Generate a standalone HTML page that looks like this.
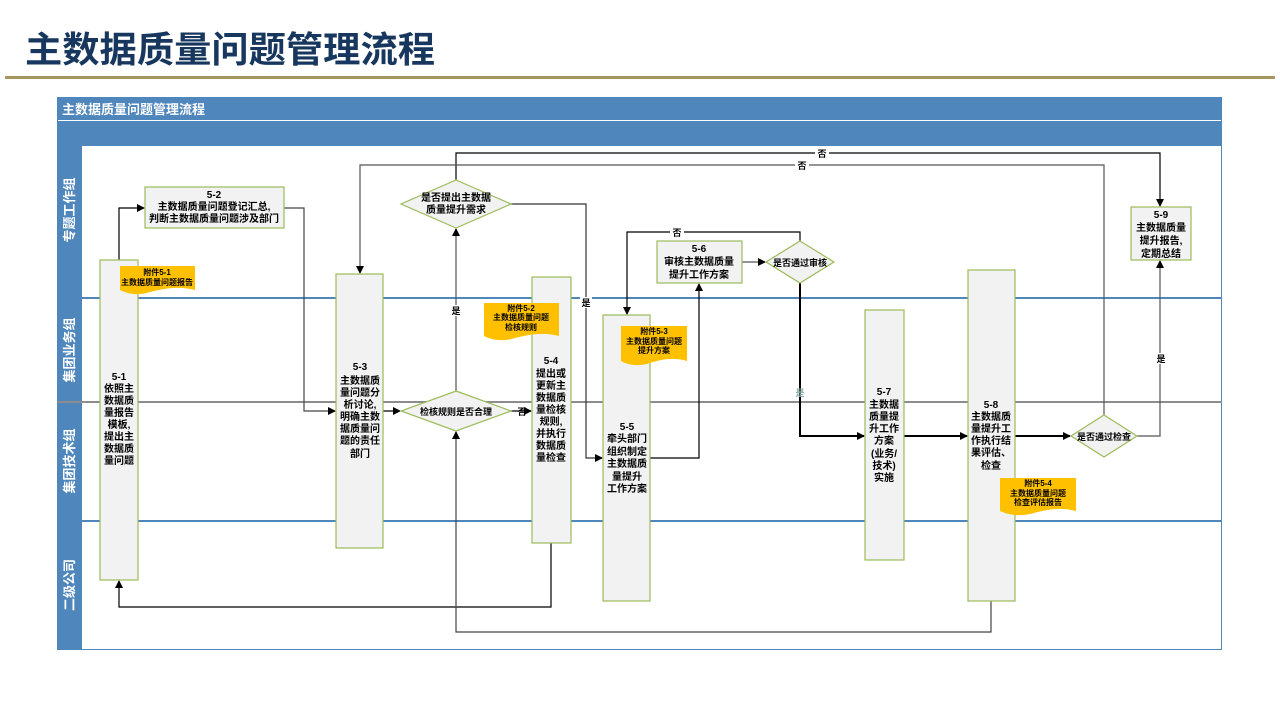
<!DOCTYPE html>
<html><head><meta charset="utf-8"><style>
body{margin:0;background:#fff;width:1280px;height:720px;overflow:hidden;font-family:"Liberation Sans","Noto Sans CJK SC",sans-serif}
</style></head><body>
<svg width="1280" height="720" xmlns="http://www.w3.org/2000/svg" font-family="Liberation Sans, Noto Sans CJK SC, sans-serif">
<defs>
<marker id="a" markerWidth="8" markerHeight="8" refX="7" refY="4" orient="auto" markerUnits="userSpaceOnUse"><path d="M0,0 L8,4 L0,8 Z" fill="#000"/></marker>
</defs>
<text x="25" y="62" font-size="36" font-weight="bold" fill="#17375e" textLength="410" lengthAdjust="spacingAndGlyphs">主数据质量问题管理流程</text>
<rect x="5" y="76" width="1270" height="3" fill="#a6955c"/>
<!-- frame -->
<rect x="57.5" y="97.5" width="1164" height="552" fill="#fff" stroke="#4f86bc"/>
<rect x="57" y="97" width="1165" height="23" fill="#4f86bc"/>
<text x="62" y="114" font-size="13" font-weight="bold" fill="#fff">主数据质量问题管理流程</text>
<rect x="82" y="121" width="1140" height="25" fill="#4f86bc"/>
<rect x="57" y="121" width="25" height="529" fill="#4f86bc"/>
<line x1="57" y1="298" x2="1222" y2="298" stroke="#4f86bc" stroke-width="2"/>
<line x1="57" y1="402" x2="1222" y2="402" stroke="#8c8c8c" stroke-width="2"/>
<line x1="57" y1="521" x2="1222" y2="521" stroke="#4f86bc" stroke-width="2"/>
<g font-size="13" font-weight="bold" fill="#fff" text-anchor="middle">
<text transform="translate(74,210) rotate(-90)">专题工作组</text>
<text transform="translate(74,350) rotate(-90)">集团业务组</text>
<text transform="translate(74,461) rotate(-90)">集团技术组</text>
<text transform="translate(74,585) rotate(-90)">二级公司</text>
</g>
<!-- connectors -->
<g fill="none" stroke="#000" stroke-width="1.2">
<path d="M119,260 V208 H144" marker-end="url(#a)"/>
<path d="M284,208 H304 V411 H335" marker-end="url(#a)" stroke="#444"/>
<path d="M383,411 H400" marker-end="url(#a)"/>
<path d="M511,411 H531" marker-end="url(#a)"/>
<path d="M456,391 V229" marker-end="url(#a)" stroke="#555"/>
<path d="M456,180 V153 H1160 V206" marker-end="url(#a)"/>
<path d="M1104,415 V165 H360 V273" marker-end="url(#a)" stroke="#555"/>
<path d="M511,204 H586 V458 H602" marker-end="url(#a)" stroke="#333"/>
<path d="M650,458 H699 V284" marker-end="url(#a)"/>
<path d="M742,262 H765" marker-end="url(#a)" stroke="#555"/>
<path d="M800,241 V232 H627 V314" marker-end="url(#a)"/>
<path d="M800,283 V436 H864" marker-end="url(#a)" stroke-width="2"/>
<path d="M904,436 H967" marker-end="url(#a)" stroke-width="2"/>
<path d="M1015,436 H1070" marker-end="url(#a)" stroke-width="2"/>
<path d="M1137,436 H1160 V261" marker-end="url(#a)" stroke="#555"/>
<path d="M551,543 V607 H119 V581" marker-end="url(#a)"/>
<path d="M991,601 V632 H456 V432" marker-end="url(#a)" stroke="#444"/>
</g>
<g font-size="9" font-weight="bold" text-anchor="middle" fill="#000">
<rect x="815" y="148" width="14" height="10" fill="#fff"/><text x="822" y="157">否</text>
<rect x="795" y="160" width="14" height="10" fill="#fff"/><text x="802" y="169">否</text>
<rect x="450" y="305" width="12" height="11" fill="#fff"/><text x="456" y="314">是</text>
<rect x="580" y="297" width="12" height="11" fill="#fff"/><text x="586" y="306">是</text>
<rect x="670" y="227" width="14" height="10" fill="#fff"/><text x="677" y="236">否</text>
<text x="800" y="396" fill="#8aa">是</text>
<rect x="1155" y="353" width="12" height="11" fill="#fff"/><text x="1161" y="362">是</text>
<text x="522" y="415">否</text>
</g>
<!-- boxes -->
<g fill="#f2f2f2" stroke="#9bbb59" stroke-width="1.2">
<rect x="100" y="260" width="38" height="320"/>
<rect x="145" y="187" width="139" height="41"/>
<rect x="336" y="274" width="47" height="274"/>
<rect x="532" y="277" width="39" height="266"/>
<rect x="603" y="315" width="47" height="286"/>
<rect x="657" y="241" width="85" height="42"/>
<rect x="865" y="310" width="39" height="250"/>
<rect x="968" y="270" width="47" height="331"/>
<rect x="1131" y="207" width="60" height="53"/>
<path d="M456,180 L511,204 L456,228 L401,204 Z"/>
<path d="M456,391 L511,411 L456,431 L401,411 Z"/>
<path d="M800,241 L834,262 L800,283 L766,262 Z"/>
<path d="M1104,415 L1137,436 L1104,457 L1071,436 Z"/>
</g>
<!-- docs -->
<g fill="#ffc000">
<path d="M120,266 H195 V290 C180,286 165,288 150,292 C138,296 128,294 120,290 Z"/>
<path d="M484,303 H559 V336 C545,332 530,334 515,338 C502,342 492,340 484,336 Z"/>
<path d="M621,326 H687 V361 C675,357 662,359 650,363 C638,367 628,365 621,361 Z"/>
<path d="M1000,478 H1076 V511 C1062,507 1048,509 1034,513 C1020,517 1009,515 1000,511 Z"/>
</g>
<g font-size="8" font-weight="bold" text-anchor="middle" fill="#000">
<text x="157" y="275">附件5-1</text><text x="157" y="285">主数据质量问题报告</text>
<text x="521" y="311">附件5-2</text><text x="521" y="320">主数据质量问题</text><text x="521" y="330">检核规则</text>
<text x="654" y="334">附件5-3</text><text x="654" y="344">主数据质量问题</text><text x="654" y="353">提升方案</text>
<text x="1038" y="486">附件5-4</text><text x="1038" y="496">主数据质量问题</text><text x="1038" y="505">检查评估报告</text>
</g>
<g font-size="10" font-weight="bold" text-anchor="middle" fill="#000">
<text x="119" y="380">5-1</text><text x="119" y="392">依照主</text><text x="119" y="404">数据质</text><text x="119" y="416">量报告</text><text x="119" y="428">模板,</text><text x="119" y="440">提出主</text><text x="119" y="452">数据质</text><text x="119" y="464">量问题</text>
<text x="214" y="198">5-2</text><text x="214" y="210">主数据质量问题登记汇总,</text><text x="214" y="222">判断主数据质量问题涉及部门</text>
<text x="360" y="370">5-3</text><text x="360" y="384">主数据质</text><text x="360" y="396">量问题分</text><text x="360" y="408">析讨论,</text><text x="360" y="420">明确主数</text><text x="360" y="432">据质量问</text><text x="360" y="444">题的责任</text><text x="360" y="457">部门</text>
<text x="551" y="364">5-4</text><text x="551" y="377">提出或</text><text x="551" y="389">更新主</text><text x="551" y="401">数据质</text><text x="551" y="413">量检核</text><text x="551" y="425">规则,</text><text x="551" y="437">并执行</text><text x="551" y="449">数据质</text><text x="551" y="461">量检查</text>
<text x="627" y="430">5-5</text><text x="627" y="442">牵头部门</text><text x="627" y="455">组织制定</text><text x="627" y="467">主数据质</text><text x="627" y="480">量提升</text><text x="627" y="492">工作方案</text>
<text x="699" y="252">5-6</text><text x="699" y="265">审核主数据质量</text><text x="699" y="278">提升工作方案</text>
<text x="884" y="395">5-7</text><text x="884" y="408">主数据</text><text x="884" y="420">质量提</text><text x="884" y="432">升工作</text><text x="884" y="444">方案</text><text x="884" y="457">(业务/</text><text x="884" y="469">技术)</text><text x="884" y="481">实施</text>
<text x="991" y="408">5-8</text><text x="991" y="420">主数据质</text><text x="991" y="432">量提升工</text><text x="991" y="444">作执行结</text><text x="991" y="456">果评估、</text><text x="991" y="469">检查</text>
<text x="1161" y="218">5-9</text><text x="1161" y="231">主数据质量</text><text x="1161" y="244">提升报告,</text><text x="1161" y="257">定期总结</text>
<text x="456" y="201">是否提出主数据</text><text x="456" y="213">质量提升需求</text>
<text x="800" y="266" font-size="9">是否通过审核</text>
<text x="1104" y="440" font-size="9">是否通过检查</text>
<text x="456" y="415" font-size="9">检核规则是否合理</text>
</g>
</svg>
</body></html>
